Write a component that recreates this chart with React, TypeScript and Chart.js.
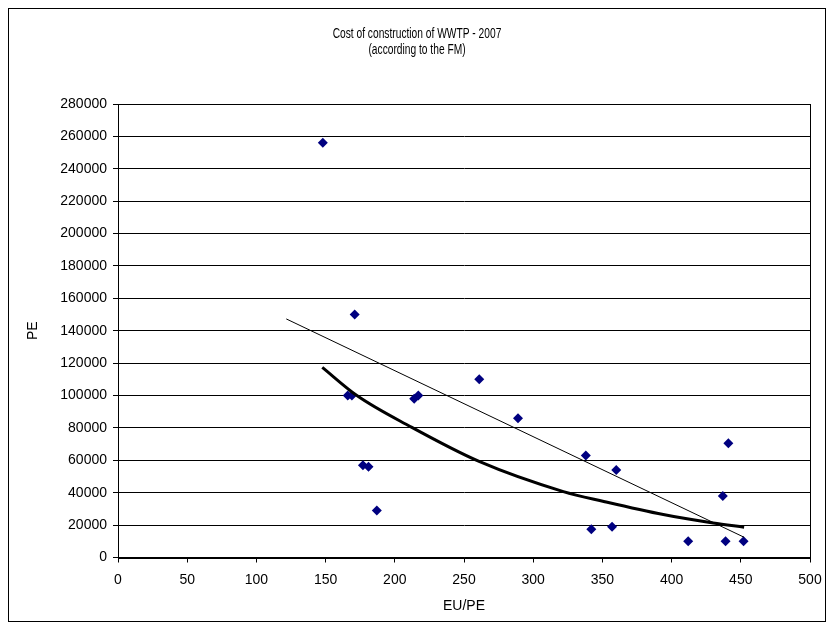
import React, { useEffect, useRef } from "react";
import { Chart, registerables } from "chart.js";

Chart.register(...registerables);

const TITLE_LINES = ["Cost of construction of WWTP - 2007", "(according to the FM)"];
const X_TITLE = "EU/PE";
const Y_TITLE = "PE";

// Scatter data (EU/PE, PE)
const euPerPe = [148, 171, 166, 169, 177, 181, 187, 214, 217, 261, 289, 338, 342, 357, 360, 412, 437, 441, 439, 452];
const pe = [256000, 150000, 100000, 100000, 57000, 56000, 29000, 98000, 100000, 110000, 86000, 63000, 17500, 19000, 54000, 10000, 38000, 70600, 10000, 10000];

// Linear trend line
const linTrendX = [121.6, 452.4];
const linTrendY = [147300, 12500];

// Exponential trend line
const expTrendX = [147.6, 172.6, 211.1, 260.9, 321.8, 351, 394, 430, 452.4];
const expTrendY = [117400, 100000, 80900, 59300, 40700, 34600, 26500, 21300, 18700];

// Axis ticks
const xTicks = [0, 50, 100, 150, 200, 250, 300, 350, 400, 450, 500];
const yTicks = [0, 20000, 40000, 60000, 80000, 100000, 120000, 140000, 160000, 180000, 200000, 220000, 240000, 260000, 280000];

const FONT = "'Liberation Sans', Arial, sans-serif";

const framePlugin = {
  id: "frame",
  afterDraw(chart: any) {
    const { ctx, chartArea: a } = chart;
    ctx.save();
    ctx.strokeStyle = "#000";
    ctx.lineWidth = 1;
    ctx.strokeRect(Math.round(a.left) + 0.5, Math.round(a.top) + 0.5, Math.round(a.right - a.left), Math.round(a.bottom - a.top));
    ctx.restore();
  },
};

const titlePlugin = {
  id: "condensedTitle",
  afterDraw(chart: any) {
    const ctx = chart.ctx;
    ctx.save();
    ctx.font = `14px ${FONT}`;
    ctx.fillStyle = "#000";
    ctx.textAlign = "center";
    ctx.textBaseline = "middle";
    const cx = chart.width / 2;
    TITLE_LINES.forEach((line, i) => {
      ctx.save();
      ctx.translate(cx, 25 + i * 16.5);
      ctx.scale(0.73, 1);
      ctx.fillText(line, 0, 0);
      ctx.restore();
    });
    ctx.restore();
  },
};

export default function App() {
  const ref = useRef<HTMLCanvasElement | null>(null);

  useEffect(() => {
    if (!ref.current) return;
    const chart = new Chart(ref.current, {
      type: "scatter",
      data: {
        datasets: [
          {
            label: "Linear",
            data: linTrendX.map((x, i) => ({ x, y: linTrendY[i] })),
            showLine: true,
            borderColor: "#000",
            borderWidth: 1,
            pointRadius: 0,
            fill: false,
          },
          {
            label: "Exponential",
            data: expTrendX.map((x, i) => ({ x, y: expTrendY[i] })),
            showLine: true,
            borderColor: "#000",
            borderWidth: 3,
            pointRadius: 0,
            cubicInterpolationMode: "monotone",
            fill: false,
          },
          {
            label: "PE",
            data: euPerPe.map((x, i) => ({ x, y: pe[i] })),
            pointStyle: "rectRot",
            pointRadius: 5,
            backgroundColor: "#000080",
            borderColor: "#000080",
            borderWidth: 0,
          },
        ],
      },
      options: {
        responsive: false,
        animation: false,
        layout: { padding: { left: 0, right: 15, top: 95, bottom: 0 } },
        plugins: {
          legend: { display: false },
          tooltip: { enabled: false },
          title: { display: false },
        },
        scales: {
          x: {
            type: "linear",
            min: xTicks[0],
            max: xTicks[xTicks.length - 1],
            afterFit: (s: any) => {
              s.height = 63.5;
              s.paddingLeft = 0;
              s.paddingRight = 0;
            },
            afterBuildTicks: (s: any) => { s.ticks = xTicks.map((v) => ({ value: v })); },
            ticks: {
              color: "#000",
              font: { family: FONT, size: 14 },
              padding: 9,
              maxRotation: 0,
              callback: (v: any) => String(v),
            },
            grid: { drawOnChartArea: false, drawTicks: true, tickLength: 5, color: "#000" },
            border: { display: true, color: "#000", width: 1 },
            title: {
              display: true,
              text: X_TITLE,
              color: "#000",
              font: { family: FONT, size: 14 },
              padding: { top: 0, bottom: 6.6 },
            },
          },
          y: {
            type: "linear",
            min: yTicks[0],
            max: yTicks[yTicks.length - 1],
            afterFit: (s: any) => {
              s.width = 109;
              s.paddingTop = 0;
              s.paddingBottom = 0;
            },
            afterBuildTicks: (s: any) => { s.ticks = yTicks.map((v) => ({ value: v })); },
            ticks: {
              color: "#000",
              font: { family: FONT, size: 14 },
              padding: 6,
              callback: (v: any) => String(v),
            },
            grid: { drawOnChartArea: true, drawTicks: true, tickLength: 5, color: "#000" },
            border: { display: true, color: "#000", width: 1 },
            title: {
              display: true,
              text: Y_TITLE,
              color: "#000",
              font: { family: FONT, size: 14 },
              padding: { top: 15.6, bottom: 0 },
            },
          },
        },
      },
      plugins: [framePlugin, titlePlugin],
    });
    return () => chart.destroy();
  }, []);

  return (
    <div style={{ width: 818, height: 614, border: "1px solid #000", boxSizing: "border-box", background: "#fff" }}>
      <canvas ref={ref} width={816} height={612} style={{ display: "block", width: 816, height: 612 }} />
    </div>
  );
}
